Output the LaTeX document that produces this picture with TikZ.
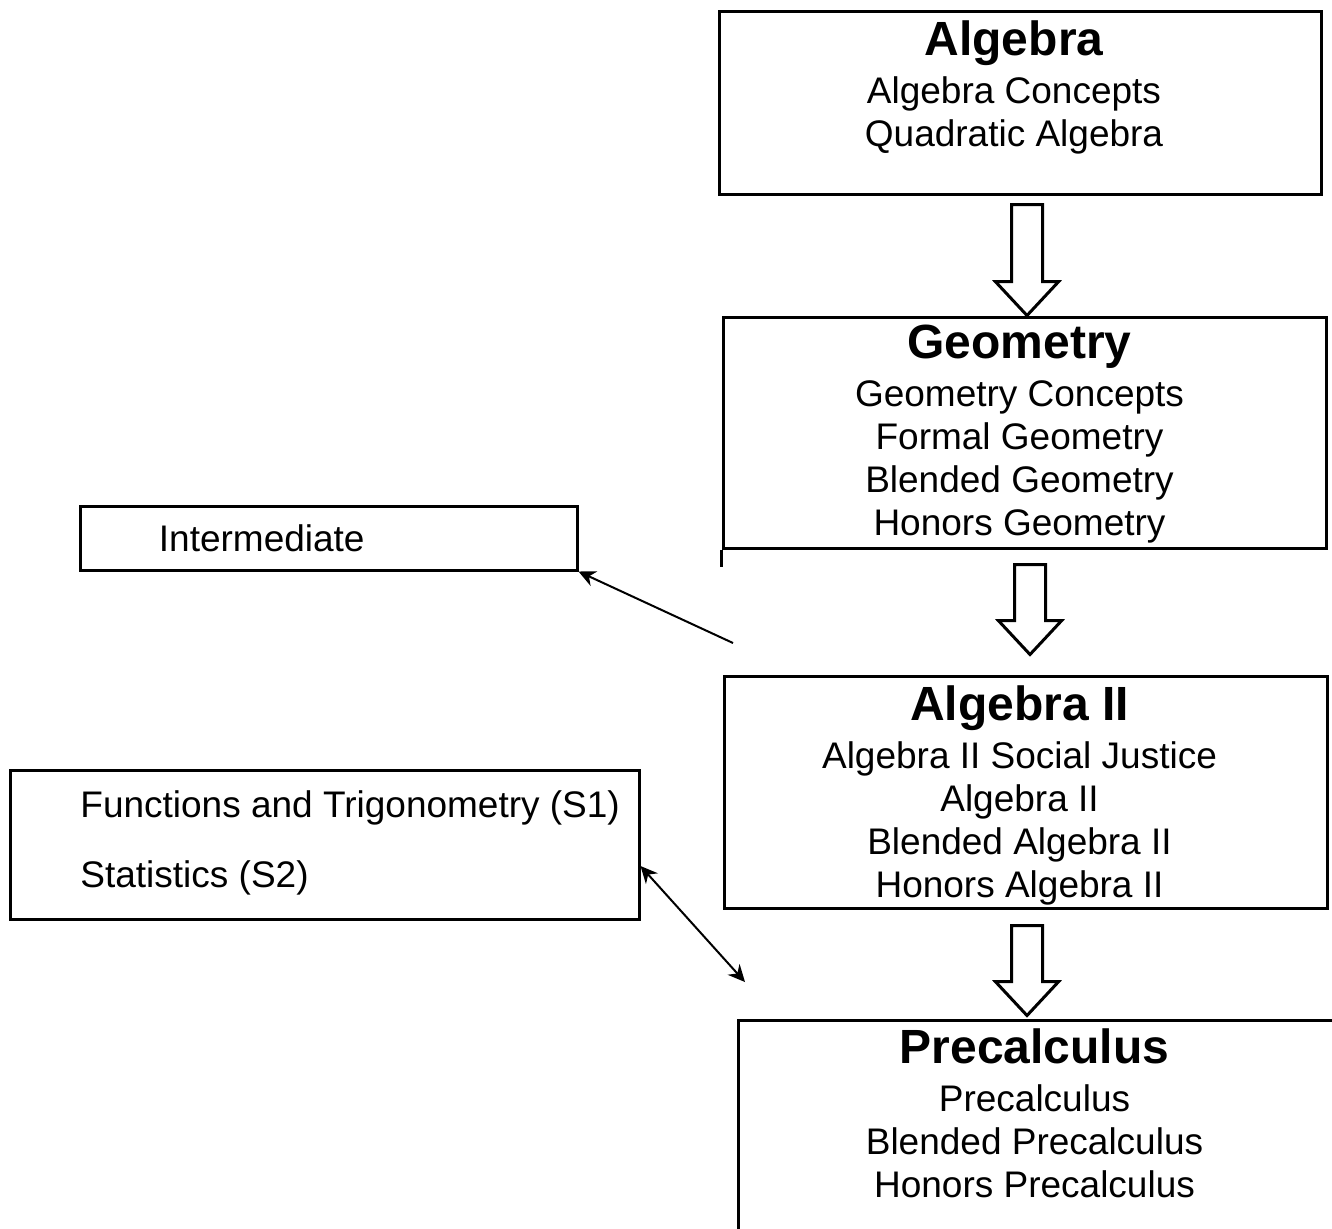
\documentclass[tikz,border=0pt]{standalone}
\usepackage{fontspec}
\setmainfont{Liberation Sans}
\usetikzlibrary{shapes,arrows.meta,positioning}
\tikzset{
  crs_box/.style = {draw=black, line width=1.5pt, rectangle, inner sep=0pt},% box of a course
  crs_txt/.style = {align=center, inner sep=0pt, anchor=north,
    font=\fontsize{18.5pt}{21.5pt}\selectfont},% titles and courses
  side_txt/.style = {inner sep=0pt, anchor=base west,
    font=\fontsize{18.5pt}{21.5pt}\selectfont},% text of side boxes
  blk_arrow/.style = {single arrow, draw=black, line width=1.5pt, rotate=-90,
    anchor=tail, inner xsep=0pt, inner ysep=7pt, minimum width=30pt,
    single arrow head extend=8pt, single arrow tip angle=86}% hollow arrow
}
\newcommand{\crstitle}[1]{{\fontsize{24pt}{24pt}\selectfont\bfseries #1}\\[2.5pt]}

\begin{document}
\begin{tikzpicture}[x=0.5pt,y=-0.5pt]
        \clip (0,0) rectangle (1332,1228);
        % main column
        \node [crs_box, minimum width=301pt, minimum height=91.5pt] (alg) at (1020,102.5) {};
        \node [crs_box, minimum width=301.5pt, minimum height=115.5pt] (geo) at (1024.5,432.5) {};
        \node [crs_box, minimum width=301.5pt, minimum height=116pt] (alg2) at (1025.5,792) {};
        \node [crs_box, minimum width=303.5pt, minimum height=110pt] (pre) at (1041.5,1130) {};
        \draw [line width=1.5pt] (geo.south west) -- ++(0,17);

        \node [crs_txt] (alg_t) at ([xshift=-3pt,yshift=-5.5pt]alg.north) {\crstitle{Algebra}
            Algebra Concepts\\ Quadratic Algebra};
        \node [crs_txt] (geo_t) at ([xshift=-2.5pt,yshift=-4.5pt]geo.north) {\crstitle{Geometry}
            Geometry Concepts\\ Formal Geometry\\ Blended Geometry\\ Honors Geometry};
        \node [crs_txt] (alg2_t) at ([xshift=-3pt,yshift=-5.5pt]alg2.north) {\crstitle{Algebra II}
            Algebra II Social Justice\\ Algebra II\\ Blended Algebra II\\ Honors Algebra II};
        \node [crs_txt] (pre_t) at ([xshift=-3.5pt,yshift=-5pt]pre.north) {\crstitle{Precalculus}
            Precalculus\\ Blended Precalculus\\ Honors Precalculus};

        \node [blk_arrow, minimum height=55.5pt] (ar1) at (1027,203) {};
        \node [blk_arrow, minimum height=45pt] (ar2) at (1030,563) {};
        \node [blk_arrow, minimum height=45pt] (ar3) at (1027,924) {};

        % side boxes
        \node [crs_box, minimum width=248.5pt, minimum height=32pt] (inter) at (328.5,538) {};
        \node [side_txt] (inter_t) at ([xshift=40pt,yshift=-6.5pt]inter.west) {Intermediate};
        \node [crs_box, minimum width=314.5pt, minimum height=74.5pt] (func) at (324.5,844.5) {};
        \node [side_txt] (func_a) at (80,817) {Functions and Trigonometry (S1)};
        \node [side_txt] (func_b) at (80,887) {Statistics (S2)};

        \coordinate (g_from) at (733,643);
        \coordinate (p_to) at (745,982);
        \draw [line width=1pt, -{Stealth[length=8.5pt,width=8pt]}] (g_from) -- (inter.south east);
        \draw [line width=1pt, {Stealth[length=8.5pt,width=8pt]}-{Stealth[length=8.5pt,width=8pt]}]
            ([yshift=-10.75pt]func.east) -- (p_to);
\end{tikzpicture}
\end{document}
